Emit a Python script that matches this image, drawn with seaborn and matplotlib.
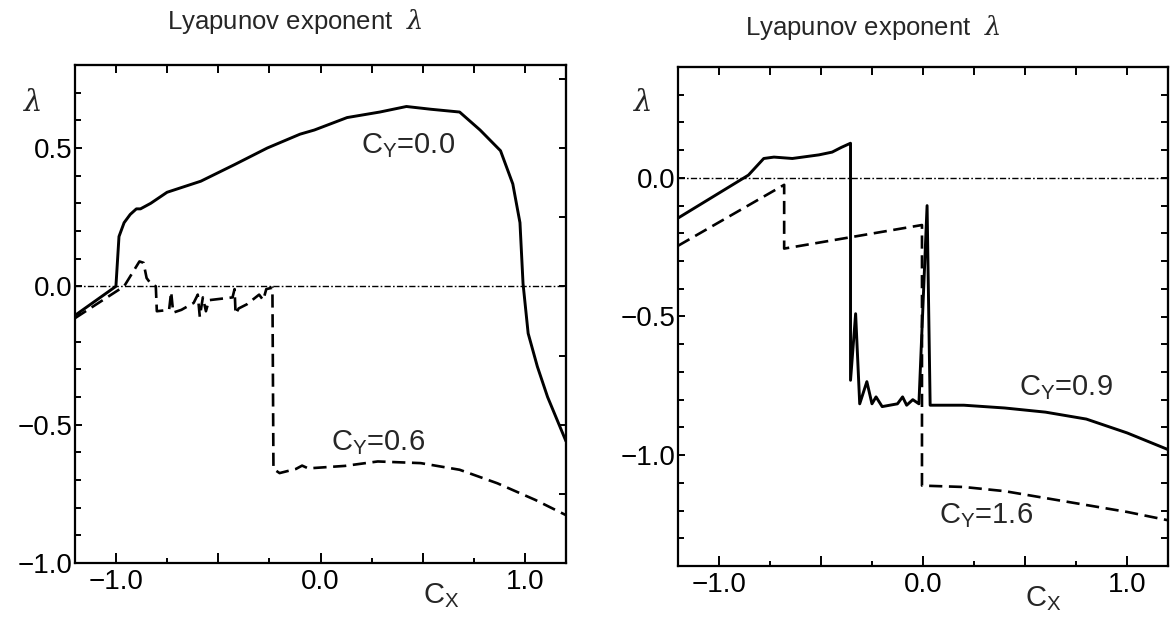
import numpy as np
import pandas as pd
import matplotlib
matplotlib.use("Agg")
import matplotlib.pyplot as plt
import seaborn as sns
from matplotlib.ticker import MultipleLocator, FuncFormatter

# ---------------- data ----------------
# left panel, C_Y = 0.0 (solid)
left_cy00_x = [-1.2, -1.0, -0.985, -0.96, -0.93, -0.90, -0.88, -0.83, -0.75, -0.585,
               -0.42, -0.26, -0.10, -0.03, 0.13, 0.29, 0.42, 0.54, 0.68, 0.78,
               0.88, 0.94, 0.975, 0.99, 1.015, 1.06, 1.11, 1.2]
left_cy00_y = [-0.105, 0.0, 0.18, 0.23, 0.26, 0.28, 0.28, 0.30, 0.34, 0.38,
               0.44, 0.50, 0.55, 0.565, 0.61, 0.63, 0.65, 0.64, 0.63, 0.565,
               0.49, 0.37, 0.23, 0.01, -0.17, -0.29, -0.40, -0.56]

# left panel, C_Y = 0.6 (dashed)
left_cy06_x = [-1.2, -0.96, -0.885, -0.865, -0.85, -0.83, -0.805, -0.80, -0.74, -0.73,
               -0.72, -0.68, -0.62, -0.60, -0.59, -0.575, -0.56, -0.545, -0.43, -0.42,
               -0.415, -0.40, -0.36, -0.30, -0.28, -0.265, -0.235, -0.23, -0.20, -0.12,
               -0.09, -0.06, 0.12, 0.28, 0.49, 0.68, 0.865, 1.05, 1.2]
left_cy06_y = [-0.115, 0.0, 0.09, 0.085, 0.03, 0.01, 0.0, -0.09, -0.085, -0.02,
               -0.095, -0.085, -0.06, -0.03, -0.11, -0.04, -0.09, -0.05, -0.04, -0.01,
               -0.10, -0.08, -0.065, -0.03, -0.05, -0.01, -0.005, -0.66, -0.675, -0.66,
               -0.648, -0.658, -0.649, -0.633, -0.639, -0.663, -0.712, -0.772, -0.827]

# right panel, C_Y = 0.9 (solid)
right_cy09_x = [-1.2, -0.855, -0.83, -0.78, -0.73, -0.64, -0.51, -0.445, -0.40, -0.355,
                -0.355, -0.33, -0.31, -0.275, -0.25, -0.23, -0.20, -0.125, -0.10, -0.08,
                -0.05, -0.02, 0.02, 0.035, 0.2, 0.4, 0.6, 0.8, 1.0, 1.2]
right_cy09_y = [-0.145, 0.01, 0.03, 0.07, 0.075, 0.07, 0.083, 0.093, 0.11, 0.125,
                -0.73, -0.49, -0.815, -0.735, -0.815, -0.79, -0.825, -0.815, -0.79, -0.82,
                -0.80, -0.815, -0.10, -0.82, -0.82, -0.83, -0.845, -0.87, -0.92, -0.98]

# right panel, C_Y = 1.6 (dashed)
right_cy16_x = [-1.2, -0.68, -0.68, -0.005, -0.005, 0.2, 0.4, 0.6, 0.8, 1.0, 1.2]
right_cy16_y = [-0.245, -0.025, -0.255, -0.17, -1.11, -1.115, -1.13, -1.155, -1.18, -1.205, -1.235]

title_text = "Lyapunov exponent  $\\lambda$"
labels_left = ["$\\mathregular{C_Y}$=0.0", "$\\mathregular{C_Y}$=0.6"]
labels_right = ["$\\mathregular{C_Y}$=0.9", "$\\mathregular{C_Y}$=1.6"]

# ---------------- style ----------------
sns.set_theme(style="ticks")
plt.rcParams["font.family"] = ["Liberation Sans", "DejaVu Sans"]
plt.rcParams["mathtext.fontset"] = "dejavuserif"
plt.rcParams["axes.linewidth"] = 1.5

FS = 20
LFS = 21
fig = plt.figure(figsize=(11.7, 6.17), dpi=100)
ax1 = fig.add_axes([75 / 1170, 1 - 563 / 617, 491 / 1170, 498 / 617])
ax2 = fig.add_axes([678 / 1170, 1 - 566 / 617, 490 / 1170, 499 / 617])

dash = (0, (5, 2.5))
zero_style = (0, (4.5, 1.6, 1.2, 1.6))


def fmt(v, pos=None):
    if abs(v) < 1e-9:
        return "0.0"
    return f"{v:.1f}".replace("-", "\u2212")


def xfmt(v, pos=None):
    if abs(v - round(v)) < 1e-9:
        return fmt(v)
    return ""


def draw(ax, xs1, ys1, xs2, ys2, ylim):
    d1 = pd.DataFrame({"x": xs1, "y": ys1})
    d2 = pd.DataFrame({"x": xs2, "y": ys2})
    ax.axhline(0, color="black", lw=1.0, linestyle=zero_style, zorder=1)
    sns.lineplot(data=d1, x="x", y="y", ax=ax, sort=False, estimator=None,
                 color="black", lw=2.1)
    sns.lineplot(data=d2, x="x", y="y", ax=ax, sort=False, estimator=None,
                 color="black", lw=1.9, linestyle=dash)
    ax.set_xlim(-1.2, 1.2)
    ax.set_ylim(*ylim)
    ax.set_xlabel("")
    ax.set_ylabel("")
    ax.xaxis.set_major_locator(MultipleLocator(0.5))
    ax.xaxis.set_minor_locator(MultipleLocator(0.25))
    ax.yaxis.set_major_locator(MultipleLocator(0.5))
    ax.yaxis.set_minor_locator(MultipleLocator(0.1))
    ax.xaxis.set_major_formatter(FuncFormatter(xfmt))
    ax.yaxis.set_major_formatter(FuncFormatter(fmt))
    ax.tick_params(axis="both", which="both", direction="in", colors="black",
                   labelsize=FS, width=1.4)
    ax.tick_params(axis="x", which="major", length=7, pad=4)
    ax.tick_params(axis="x", which="minor", length=3.5)
    ax.tick_params(axis="y", which="major", length=5, pad=2)
    ax.tick_params(axis="y", which="minor", length=4.5)
    for sp in ax.spines.values():
        sp.set_color("black")
        sp.set_linewidth(1.6)
        sp.set_visible(True)
    top = ax.secondary_xaxis("top")
    top.xaxis.set_major_locator(MultipleLocator(0.25))
    top.tick_params(direction="in", length=6, width=1.4, labeltop=False, colors="black")
    return ax


draw(ax1, left_cy00_x, left_cy00_y, left_cy06_x, left_cy06_y, (-1.0, 0.8))
draw(ax2, right_cy09_x, right_cy09_y, right_cy16_x, right_cy16_y, (-1.4, 0.4))

# right-hand ticks
r1 = ax1.secondary_yaxis("right")
r1.yaxis.set_major_locator(MultipleLocator(0.25))
r1.tick_params(direction="in", length=5, width=1.4, labelright=False, colors="black")
r2 = ax2.secondary_yaxis("right")
r2.yaxis.set_major_locator(MultipleLocator(0.1))
r2.tick_params(direction="in", length=5, width=1.4, labelright=False, colors="black")

# titles
fig.text(295 / 1170, 1 - 22 / 617, title_text, ha="center", va="center", fontsize=18.5)
fig.text(873 / 1170, 1 - 27 / 617, title_text, ha="center", va="center", fontsize=18.5)

# lambda axis labels and C_X labels
for ax, xf, yf in [(ax1, -0.086, 0.924), (ax2, -0.073, 0.928)]:
    ax.text(xf, yf, "$\\lambda$", transform=ax.transAxes, ha="center", va="center",
            fontsize=LFS)
    ax.text(0.745, -0.065, "$\\mathregular{C_X}$", transform=ax.transAxes,
            ha="center", va="center", fontsize=LFS)

# curve labels
ax1.text(0.20, 0.51, labels_left[0], ha="left", va="center", fontsize=LFS)
ax1.text(0.05, -0.565, labels_left[1], ha="left", va="center", fontsize=LFS)
ax2.text(0.47, -0.755, labels_right[0], ha="left", va="center", fontsize=LFS)
ax2.text(0.08, -1.22, labels_right[1], ha="left", va="center", fontsize=LFS)

fig.savefig("out.png", dpi=100)
